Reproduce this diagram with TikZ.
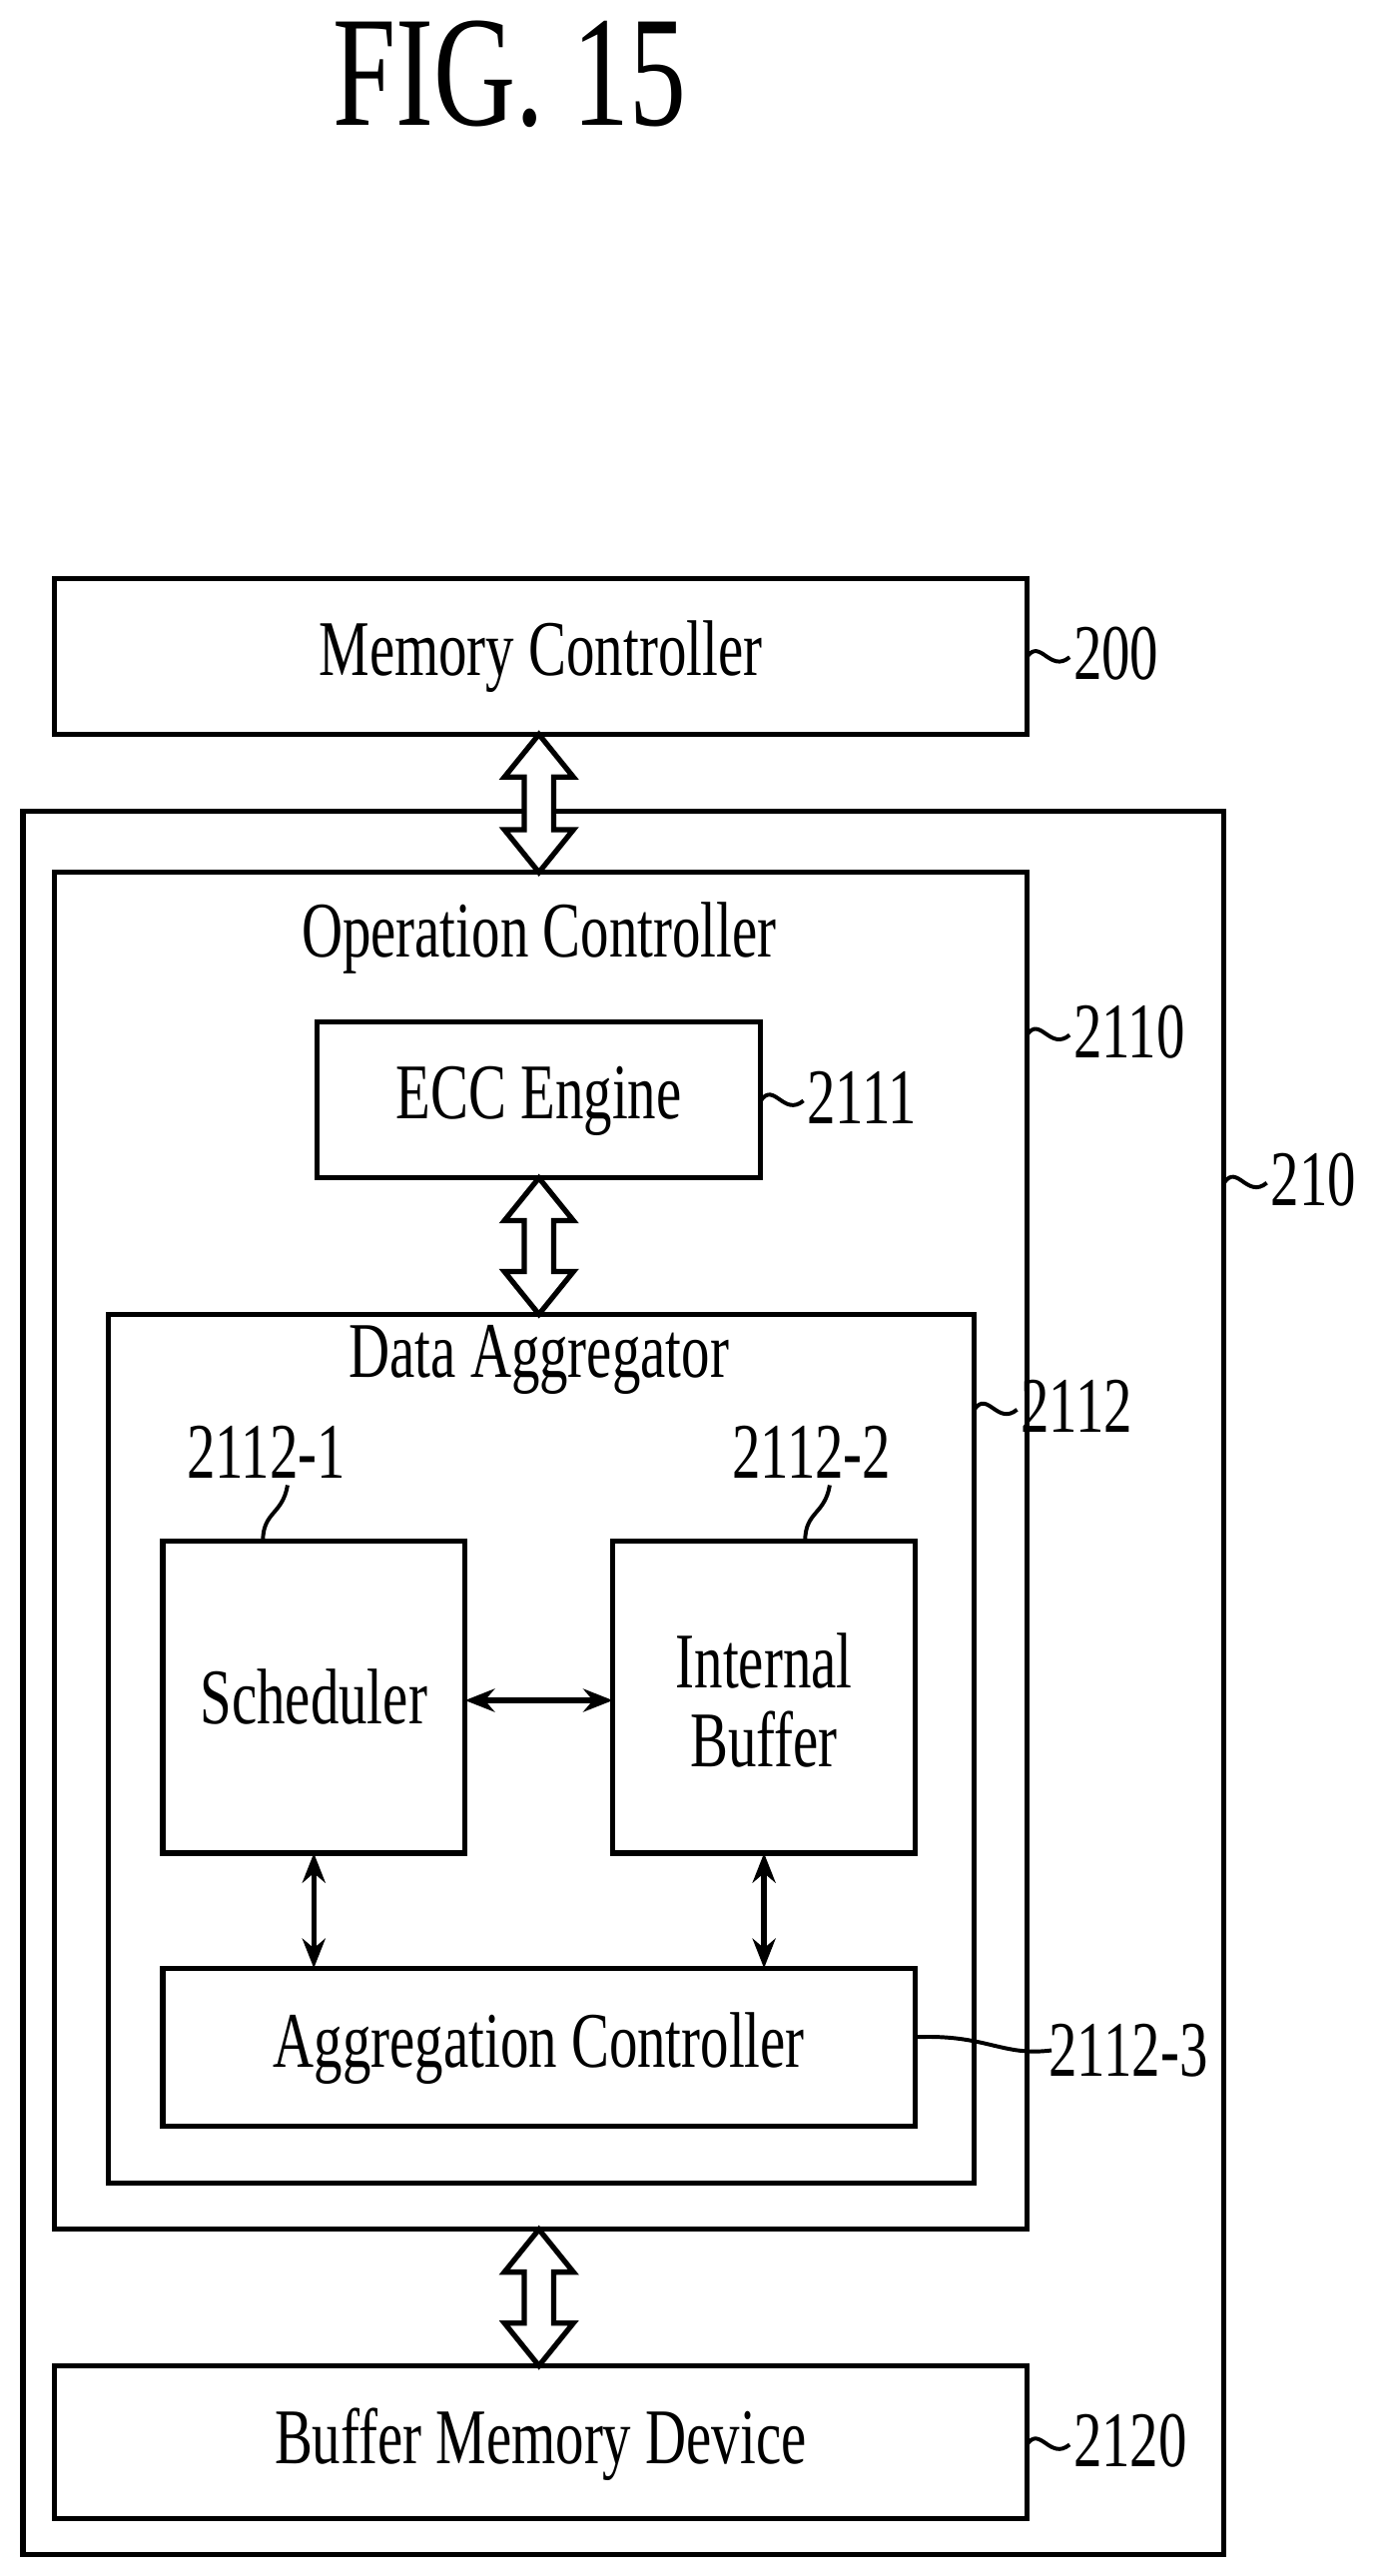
\documentclass[tikz,border=0pt]{standalone}
\usepackage{fontspec}
\setmainfont{Liberation Serif}
\usetikzlibrary{arrows.meta}
\begin{document}
\begin{tikzpicture}[x=0.5pt,y=-0.5pt,
  box/.style={draw,line width=1.6pt,inner sep=0pt},
  lbl/.style={font=\fontsize{24}{26}\selectfont},
  ref/.style={font=\fontsize{24}{26}\selectfont,anchor=west,inner sep=1pt},
  wave/.style={line width=1.2pt},
  thin/.style={line width=1.6pt,<->,>={Stealth[length=9pt,width=7pt]}},
  hollow/.style={draw,line width=1.6pt,fill=white}]
\useasboundingbox (0,0) rectangle (848,1568);
\newcommand\nx[1]{\scalebox{0.72}[1]{#1}}
\newcommand\hollowarrow[3]{% x, ytop, ybot
  \draw[hollow] (#1,#2) -- (#1+21,#2+26) -- (#1+9,#2+26) -- (#1+9,#3-26) -- (#1+21,#3-26) -- (#1,#3) -- (#1-21,#3-26) -- (#1-9,#3-26) -- (#1-9,#2+26) -- (#1-21,#2+26) -- cycle;}
\newcommand\wavy[2]{\draw[wave] (#1,#2) .. controls (#1+8,#2-12) and (#1+14,#2+10) .. (#1+26,#2);}

\node[lbl] (fig) at (310,45) {\fontsize{48}{52}\selectfont\nx{FIG. 15}};

\draw[box] (14,494) rectangle (745,1555); \coordinate (r210) at (745,720);
\node[box,minimum width=592pt*0.5,minimum height=95pt*0.5] (mc) at (329,399.5) {};
\node[lbl] at (mc) {\nx{Memory Controller}};
\draw[box] (33,531) rectangle (625,1357);
\node[lbl] (oc) at (328,571) {\nx{Operation Controller}};
\draw[box] (193,622) rectangle (463,717);
\node[lbl] (ecc) at (328,670) {\nx{ECC Engine}};
\draw[box] (66,800) rectangle (593,1329);
\node[lbl] (da) at (328,828) {\nx{Data Aggregator}};
\draw[box] (99,938) rectangle (283,1128);
\node[lbl] (sch) at (191,1033) {\nx{Scheduler}};
\draw[box] (373,938) rectangle (557,1128);
\node[lbl,align=center] (ib) at (465,1035) {\nx{Internal}\\[-2pt]\nx{Buffer}};
\draw[box] (99,1198) rectangle (557,1294);
\node[lbl] (ac) at (328,1247) {\nx{Aggregation Controller}};
\draw[box] (33,1440) rectangle (625,1533);
\node[lbl] (bmd) at (329,1488) {\nx{Buffer Memory Device}};

\hollowarrow{328}{447}{531}
\hollowarrow{328}{717}{800}
\hollowarrow{328}{1357}{1440}

\coordinate (s1) at (283,1035); \coordinate (s2) at (373,1035);
\draw[thin] (s1) -- (s2);
\coordinate (v1) at (191,1128); \coordinate (v2) at (191,1198);
\draw[thin] (v1) -- (v2);
\coordinate (w1) at (465,1128); \coordinate (w2) at (465,1198);
\draw[thin] (w1) -- (w2);

\wavy{625}{400} \node[ref] (l200) at (651,398) {\nx{200}};
\wavy{625}{630} \node[ref] (l2110) at (651,628) {\nx{2110}};
\wavy{463}{670} \node[ref] (l2111) at (489,668) {\nx{2111}};
\wavy{745}{720} \node[ref] (l210) at (771,718) {\nx{210}};
\wavy{593}{858} \node[ref] (l2112) at (619,856) {\nx{2112}};
\wavy{625}{1488} \node[ref] (l2120) at (651,1486) {\nx{2120}};
\node[lbl] (l1) at (162,884) {\nx{2112-1}};
\node[lbl] (l2) at (494,884) {\nx{2112-2}};
\draw[wave] (175,904) .. controls (172,922) and (160,920) .. (160,938);
\draw[wave] (505,904) .. controls (502,922) and (490,920) .. (490,938);
\node[ref] (l3) at (636,1248) {\nx{2112-3}};
\draw[wave] (557,1240) .. controls (600,1238) and (610,1252) .. (640,1248);
\end{tikzpicture}
\end{document}
